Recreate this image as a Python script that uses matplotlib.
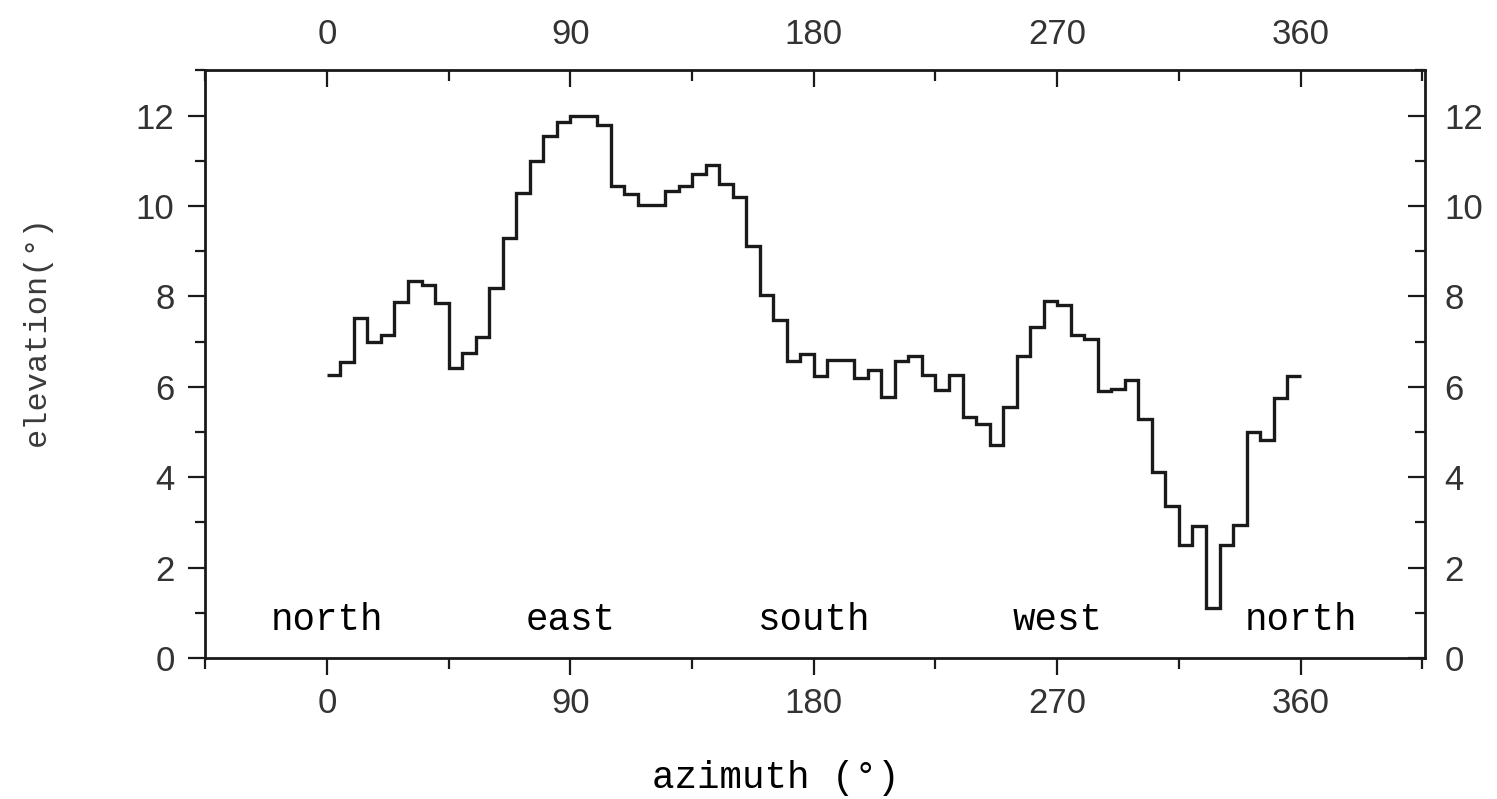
import numpy as np
import matplotlib.pyplot as plt
from matplotlib.ticker import MultipleLocator

# azimuth bin edges (5 degree bins) and elevation of each bin
azimuth_edges = np.arange(0, 365, 5)
elevation = [6.25, 6.54, 7.51, 6.99, 7.15, 7.88, 8.35, 8.24, 7.85, 6.41,
             6.75, 7.10, 8.18, 9.28, 10.29, 11.00, 11.54, 11.86, 11.98, 11.98,
             11.79, 10.45, 10.27, 10.03, 10.03, 10.32, 10.43, 10.70, 10.91, 10.49,
             10.19, 9.12, 8.02, 7.47, 6.58, 6.72, 6.23, 6.60, 6.60, 6.19,
             6.36, 5.77, 6.56, 6.67, 6.27, 5.93, 6.27, 5.34, 5.17, 4.72,
             5.56, 6.68, 7.33, 7.90, 7.81, 7.15, 7.06, 5.91, 5.96, 6.15,
             5.28, 4.12, 3.37, 2.49, 2.92, 1.10, 2.50, 2.94, 4.99, 4.83,
             5.75, 6.24]

direction_names = ["north", "east", "south", "west", "north"]
direction_angles = [0, 90, 180, 270, 360]
direction_level = 0.62

xticks = [0, 90, 180, 270, 360]
yticks = [0, 2, 4, 6, 8, 10, 12]

ink = "#1a1a1a"
sans = ["Liberation Sans", "DejaVu Sans"]
mono = ["Liberation Mono", "DejaVu Sans Mono"]

fig = plt.figure(figsize=(14.97, 7.99), dpi=100)
ax = fig.add_axes([0.137, 0.1765, 0.815, 0.7355])

ax.stairs(elevation, azimuth_edges, color=ink, lw=2.4, baseline=None)

for name, ang in zip(direction_names, direction_angles):
    ax.text(ang, direction_level, name, ha="center", va="baseline",
            family=mono, fontsize=27, color="black")

ax.set_xlim(-45, 406)
ax.set_ylim(0, 13)
ax.set_xticks(xticks)
ax.set_yticks(yticks)
ax.xaxis.set_minor_locator(MultipleLocator(45))
ax.yaxis.set_minor_locator(MultipleLocator(1))

for s in ax.spines.values():
    s.set_linewidth(2.0)
    s.set_color(ink)

ax.tick_params(axis="x", which="both", direction="out", bottom=True, top=False,
               color=ink, width=1.6)
ax.tick_params(axis="x", which="major", length=12, pad=9, labelsize=25)
ax.tick_params(axis="x", which="minor", length=8)
ax.tick_params(axis="y", which="both", direction="out", left=True, right=False,
               color=ink, width=1.6)
ax.tick_params(axis="y", which="major", length=12, pad=10, labelsize=25)
ax.tick_params(axis="y", which="minor", length=7)
for lab in ax.get_xticklabels() + ax.get_yticklabels():
    lab.set_family(sans)
    lab.set_color("#333333")

# top axis (inward ticks)
top = ax.secondary_xaxis("top")
top.set_xticks(xticks)
top.xaxis.set_minor_locator(MultipleLocator(45))
top.tick_params(which="both", direction="in", color=ink, width=1.6)
top.tick_params(which="major", length=12, pad=14, labelsize=25)
top.tick_params(which="minor", length=8)
for lab in top.get_xticklabels():
    lab.set_family(sans)
    lab.set_color("#333333")

# right axis (inward ticks)
right = ax.secondary_yaxis("right")
right.set_yticks(yticks)
right.yaxis.set_minor_locator(MultipleLocator(1))
right.tick_params(which="both", direction="in", color=ink, width=1.6)
right.tick_params(which="major", length=12, pad=14, labelsize=25)
right.tick_params(which="minor", length=7)
for lab in right.get_yticklabels():
    lab.set_family(sans)
    lab.set_color("#333333")

ax.set_xlabel("azimuth (°)", family=mono, fontsize=27, color="black")
ax.xaxis.set_label_coords(0.468, -0.205)
ax.xaxis.label.set_va("center")
ax.set_ylabel("elevation(°)", family=mono, fontsize=23, color="#3a3a3a")
ax.yaxis.set_label_coords(-0.138, 0.558)
ax.yaxis.label.set_va("center")

fig.savefig("out.png", dpi=100)
